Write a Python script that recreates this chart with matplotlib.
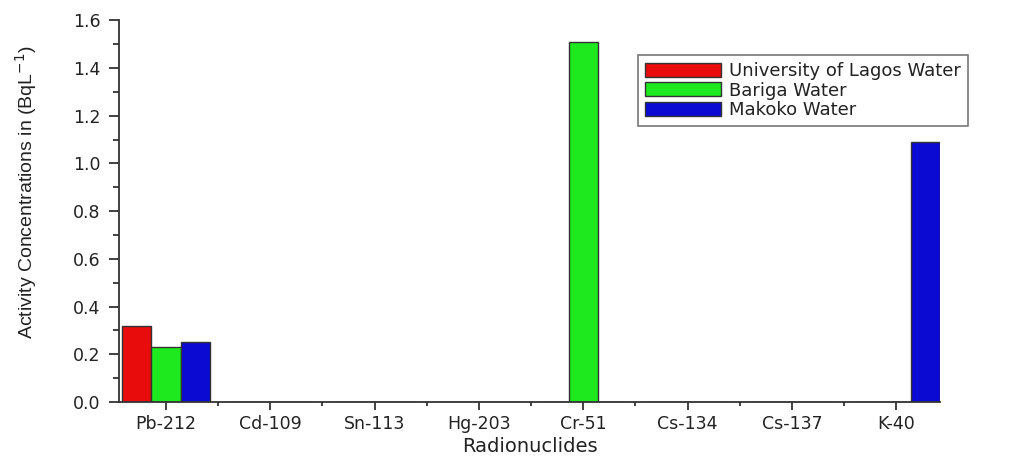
import numpy as np
import matplotlib
matplotlib.use('Agg')
import matplotlib.pyplot as plt
from matplotlib.ticker import MultipleLocator

plt.rcParams['font.family'] = ['DejaVu Sans']

nuclides = ['Pb-212', 'Cd-109', 'Sn-113', 'Hg-203', 'Cr-51', 'Cs-134', 'Cs-137', 'K-40']
unilag = [0.32, 0, 0, 0, 0, 0, 0, 0]
bariga = [0.23, 0, 0, 0, 1.51, 0, 0, 0]
makoko = [0.25, 0, 0, 0, 0, 0, 0, 1.09]
names = ['University of Lagos Water', 'Bariga Water', 'Makoko Water']
colors = ['#e80c0c', '#1ee81e', '#0a0ad2']

fig = plt.figure(figsize=(10.36, 4.59), dpi=100)
ax = fig.add_axes([0.1149, 0.124, 0.7925, 0.832])

x = np.arange(len(nuclides))
w = 0.28
for k, (vals, nm, c) in enumerate(zip([unilag, bariga, makoko], names, colors)):
    ax.bar(x + (k - 1) * w, vals, w, color=c, edgecolor='#333333', linewidth=1.0, label=nm)

ax.set_xlim(-0.45, 7.42)
ax.set_ylim(0, 1.6)
ax.set_xticks(x)
ax.set_xticklabels(nuclides)
ax.xaxis.set_minor_locator(MultipleLocator(0.5))
ax.yaxis.set_major_locator(MultipleLocator(0.2))
ax.yaxis.set_minor_locator(MultipleLocator(0.1))
ax.yaxis.set_major_formatter(plt.FormatStrFormatter('%.1f'))
for s in ['top', 'right']:
    ax.spines[s].set_visible(False)
for s in ['left', 'bottom']:
    ax.spines[s].set_color('#333333')
    ax.spines[s].set_linewidth(1.3)
ax.tick_params(which='major', direction='out', width=1.3, color='#333333',
               labelsize=12.5, labelcolor='#222222')
ax.tick_params(axis='y', which='major', length=7.5, pad=6)
ax.tick_params(axis='y', which='minor', length=4, width=1.3, color='#333333')
ax.tick_params(axis='x', which='major', length=5.5, pad=4)
ax.tick_params(axis='x', which='minor', length=3, width=1.3, color='#333333')

ax.set_xlabel('Radionuclides', fontsize=14, labelpad=3, color='#222222')
ax.set_ylabel('Activity Concentrations in (BqL$^{-1}$)', fontsize=14,
              family=['Liberation Sans Narrow', 'Liberation Sans', 'DejaVu Sans'],
              color='#222222')
ax.yaxis.set_label_coords(-0.098, 0.55)

leg = fig.legend(loc='upper left', bbox_to_anchor=(638 / 1036, (459 - 55) / 459),
                 fontsize=13, frameon=True, fancybox=False, handlelength=4.2,
                 handleheight=0.8, labelspacing=0.08, borderpad=0.4, handletextpad=0.45,
                 borderaxespad=0)
leg.get_frame().set_edgecolor('#555555')
leg.get_frame().set_linewidth(1.2)
for t in leg.get_texts():
    t.set_color('#222222')

fig.savefig('out.png', dpi=100)
